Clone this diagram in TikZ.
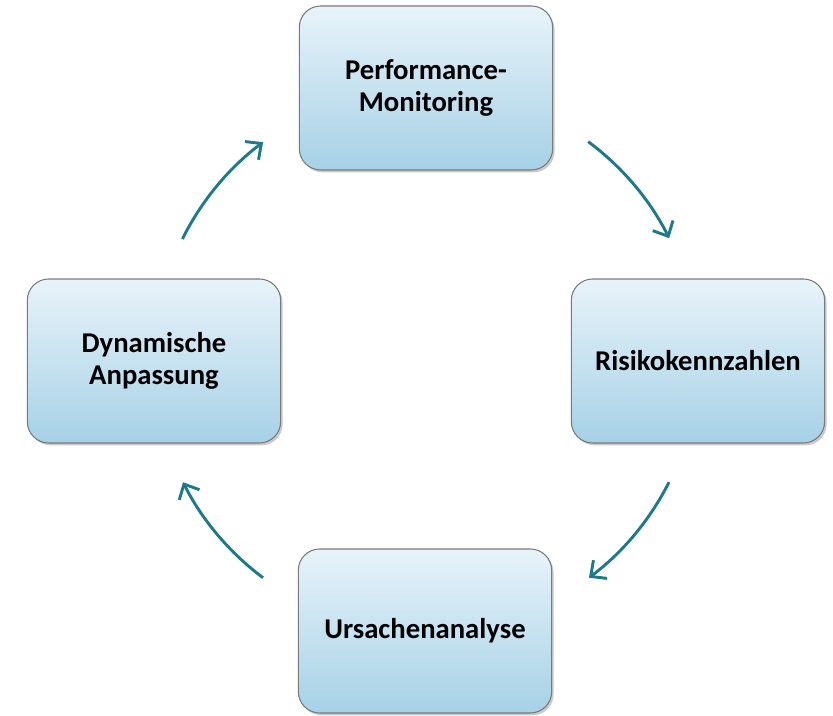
\documentclass[tikz,border=0pt]{standalone}
\usepackage{fontspec}
\setmainfont{Carlito}
\usetikzlibrary{arrows.meta,shadows}
\definecolor{boxtop}{HTML}{E8F3FA}
\definecolor{boxbot}{HTML}{A6D1E6}
\definecolor{boxline}{HTML}{7A7A7A}
\definecolor{arrowcol}{HTML}{1C7A8C}
\tikzset{
  stepbox/.style={draw=boxline, line width=0.8pt, rounded corners=16pt,
    top color=boxtop, bottom color=boxbot,
    minimum width=190pt, minimum height=123pt, align=center,
    font=\fontsize{21.5}{23.5}\selectfont\bfseries,
    drop shadow={shadow xshift=1.5pt, shadow yshift=-1.8pt, opacity=0.35, fill=black!60}},
  cyclearrow/.style={draw=arrowcol, line width=2.2pt,
    -{Straight Barb[length=9pt,width=17pt,line width=2.2pt]}}
}
\begin{document}
\begin{tikzpicture}[x=0.75pt,y=0.75pt]
\useasboundingbox (0,0) rectangle (833,716);
\coordinate (c) at (426,356);
\node[stepbox] (pm) at (426,628) {Performance-\\Monitoring};
\node[stepbox] (rk) at (698,355) {Risikokennzahlen};
\node[stepbox] (ua) at (425,85) {Ursachenanalyse};
\node[stepbox] (da) at (154,355) {Dynamische\\Anpassung};
\draw[cyclearrow] ([shift={(153.6:204pt)}]c) arc[start angle=153.6, end angle=126.8, radius=204pt];
\draw[cyclearrow] ([shift={(53.4:204pt)}]c) arc[start angle=53.4, end angle=26.6, radius=204pt];
\draw[cyclearrow] ([shift={(-26.7:204pt)}]c) arc[start angle=-26.7, end angle=-53.2, radius=204pt];
\draw[cyclearrow] ([shift={(-126.8:204pt)}]c) arc[start angle=-126.8, end angle=-153.3, radius=204pt];
\end{tikzpicture}
\end{document}
